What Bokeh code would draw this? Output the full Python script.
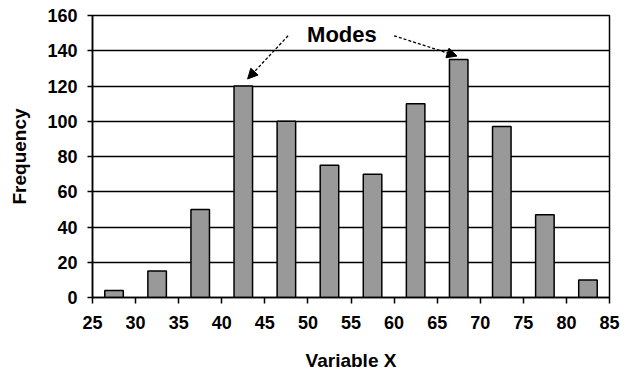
from bokeh.plotting import figure
from bokeh.models import Arrow, NormalHead, Label, FixedTicker, ColumnDataSource
from bokeh.embed import file_html
from bokeh.resources import INLINE

# Data
bin_centers = [27.5, 32.5, 37.5, 42.5, 47.5, 52.5, 57.5, 62.5, 67.5, 72.5, 77.5, 82.5]
frequency = [4, 15, 50, 120, 100, 75, 70, 110, 135, 97, 47, 10]
x_ticks = [25, 30, 35, 40, 45, 50, 55, 60, 65, 70, 75, 80, 85]
y_ticks = [0, 20, 40, 60, 80, 100, 120, 140, 160]
annotation_text = "Modes"
annotation_pos = (49.9, 149)
arrow_starts = [(47.7, 148.5), (60.0, 148.5)]
arrow_ends = [(43.0, 124.0), (67.3, 137.0)]

FONT = "Liberation Sans"

p = figure(width=632, height=375, x_range=(25, 85), y_range=(0, 160),
           output_backend="svg", toolbar_location=None,
           min_border_left=92, min_border_right=23, min_border_top=15, min_border_bottom=78)

src = ColumnDataSource(dict(x=bin_centers, top=frequency))
p.vbar(x="x", top="top", width=2.15, bottom=0, source=src,
       fill_color="#999999", line_color="black", line_width=1.5)

p.xgrid.grid_line_color = None
p.ygrid.grid_line_color = "black"
p.ygrid.grid_line_width = 1.3
p.ygrid.ticker = FixedTicker(ticks=y_ticks)
p.ygrid.level = "underlay"

p.outline_line_color = "black"
p.outline_line_width = 1.5

p.xaxis.ticker = FixedTicker(ticks=x_ticks)
p.yaxis.ticker = FixedTicker(ticks=y_ticks)
for ax in (p.xaxis[0], p.yaxis[0]):
    ax.axis_line_color = "black"
    ax.axis_line_width = 1.5
    ax.major_tick_line_color = "black"
    ax.major_tick_line_width = 1.5
    ax.major_tick_in = 0
    ax.minor_tick_line_color = None
    ax.major_label_text_font = FONT
    ax.major_label_text_font_style = "bold"
    ax.major_label_text_font_size = "18px"
    ax.major_label_text_color = "black"
    ax.axis_label_text_font = FONT
    ax.axis_label_text_font_style = "bold"
    ax.axis_label_text_font_size = "19px"
    ax.axis_label_text_color = "black"

p.xaxis.major_tick_out = 6
p.yaxis.major_tick_out = 5
p.xaxis.major_label_standoff = 12
p.yaxis.major_label_standoff = 10
p.xaxis.axis_label = "Variable X"
p.yaxis.axis_label = "Frequency"
p.xaxis.axis_label_standoff = 18
p.yaxis.axis_label_standoff = 14

p.add_layout(Label(x=annotation_pos[0], y=annotation_pos[1], text=annotation_text,
                   text_font=FONT, text_font_style="bold", text_font_size="22px",
                   text_baseline="middle", text_align="left", text_color="black"))

for (xs, ys), (xe, ye) in zip(arrow_starts, arrow_ends):
    p.add_layout(Arrow(end=NormalHead(size=10, fill_color="black", line_color="black"),
                       x_start=xs, y_start=ys, x_end=xe, y_end=ye,
                       line_color="black", line_width=1.3, line_dash="3 2"))

open("out.html", "w").write(file_html(p, INLINE))
